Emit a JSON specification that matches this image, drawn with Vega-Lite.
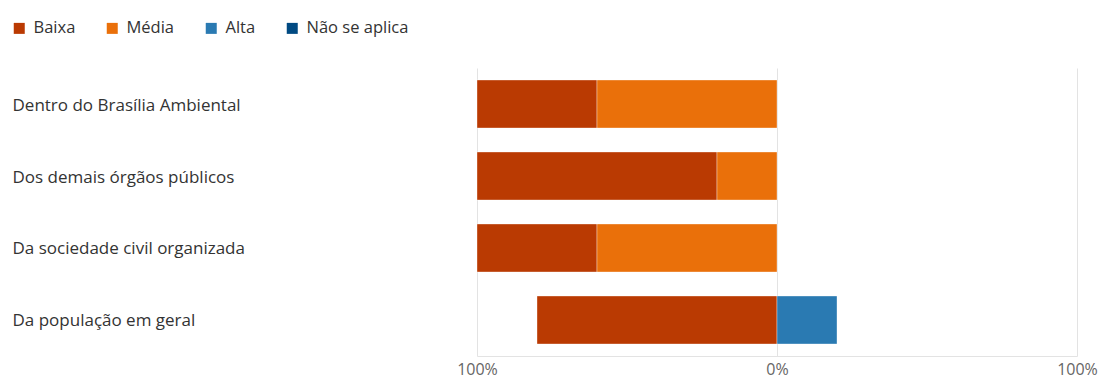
{
  "$schema": "https://vega.github.io/schema/vega-lite/v6.json",
  "width": 600,
  "height": 288,
  "autosize": {"type": "none"},
  "padding": {"left": 477, "top": 68, "right": 27, "bottom": 23},
  "config": {
    "view": {"stroke": null},
    "font": "Open Sans"
  },
  "data": {
    "values": [
      {"grupo": "Dentro do Brasília Ambiental", "nivel": "Baixa", "pct": -40},
      {"grupo": "Dentro do Brasília Ambiental", "nivel": "Média", "pct": -60},
      {"grupo": "Dos demais órgãos públicos", "nivel": "Baixa", "pct": -80},
      {"grupo": "Dos demais órgãos públicos", "nivel": "Média", "pct": -20},
      {"grupo": "Da sociedade civil organizada", "nivel": "Baixa", "pct": -40},
      {"grupo": "Da sociedade civil organizada", "nivel": "Média", "pct": -60},
      {"grupo": "Da população em geral", "nivel": "Baixa", "pct": -80},
      {"grupo": "Da população em geral", "nivel": "Alta", "pct": 20}
    ]
  },
  "transform": [
    {"calculate": "indexof(['Média','Alta','Baixa','Não se aplica'], datum.nivel)", "as": "ordem"}
  ],
  "mark": {"type": "bar", "stroke": "#ffffff", "strokeWidth": 0.6, "strokeOpacity": 0.6},
  "encoding": {
    "y": {
      "field": "grupo",
      "type": "nominal",
      "sort": ["Dentro do Brasília Ambiental", "Dos demais órgãos públicos", "Da sociedade civil organizada", "Da população em geral"],
      "scale": {"paddingInner": 0.3333, "paddingOuter": 0.1667},
      "axis": {
        "title": null,
        "domain": false,
        "ticks": false,
        "labelAlign": "left",
        "labelPadding": 465,
        "labelOffset": 1.5,
        "labelFontSize": 17,
        "labelColor": "#333333",
        "labelFont": "Open Sans",
        "labelLimit": 450
      }
    },
    "x": {
      "field": "pct",
      "type": "quantitative",
      "stack": "zero",
      "scale": {"domain": [-100, 100], "nice": false},
      "axis": {
        "title": null,
        "values": [-100, 0, 100],
        "labelExpr": "abs(datum.value) + '%'",
        "labelFontSize": 16,
        "labelColor": "#666666",
        "labelPadding": 5,
        "ticks": false,
        "grid": true,
        "gridColor": "#e3e3e3",
        "domainColor": "#e3e3e3",
        "labelFlush": false
      }
    },
    "color": {
      "field": "nivel",
      "type": "nominal",
      "scale": {
        "domain": ["Baixa", "Média", "Alta", "Não se aplica"],
        "range": ["#BA3A02", "#EA700A", "#2A7AB2", "#004A82"]
      },
      "legend": {
        "title": null,
        "orient": "none",
        "direction": "horizontal",
        "legendX": -466,
        "legendY": -48,
        "symbolType": "square",
        "symbolSize": 121,
        "symbolStrokeWidth": 0,
        "symbolOpacity": 1,
        "labelFontSize": 16.5,
        "labelColor": "#333333",
        "labelFont": "Open Sans",
        "labelOffset": 6,
        "columnPadding": 28
      }
    },
    "order": {"field": "ordem", "type": "quantitative"}
  }
}
